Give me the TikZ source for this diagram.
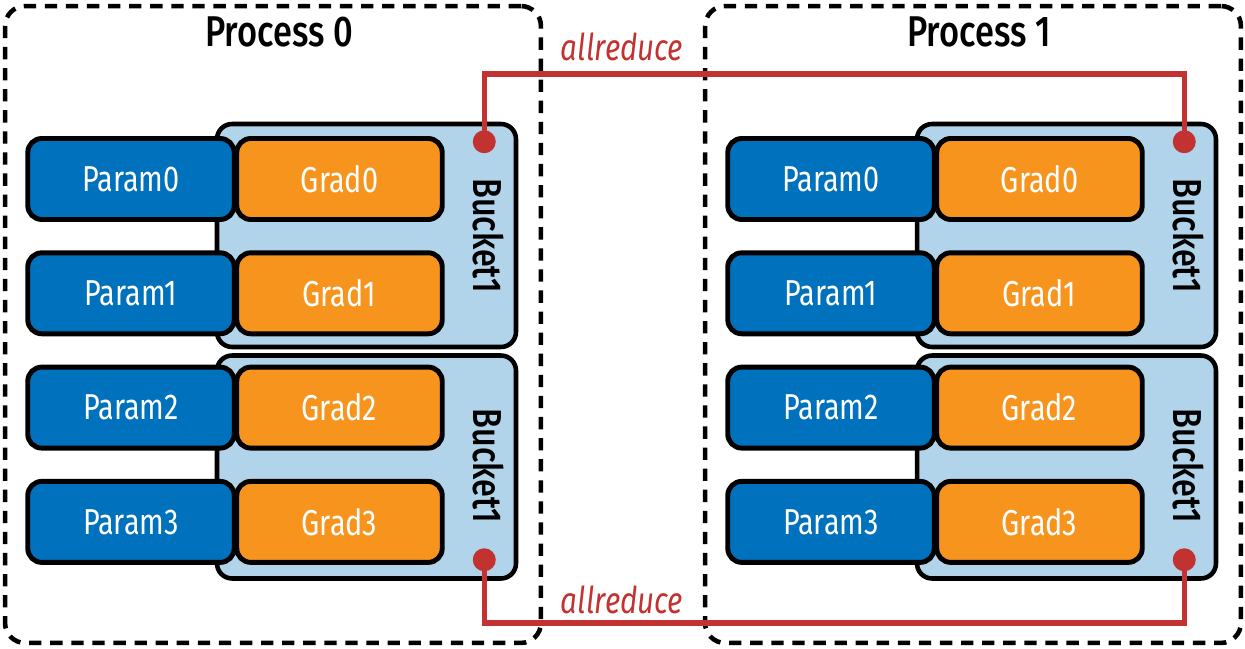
\documentclass[tikz,border=0pt]{standalone}
\usepackage{fontspec}
\setmainfont{Fira Sans}[FakeStretch=0.8]
\newfontfamily\mediumfont{Fira Sans Medium}[FakeStretch=0.8]
\usetikzlibrary{calc,positioning}
\definecolor{parblue}{RGB}{0,113,188}
\definecolor{gradorange}{RGB}{247,148,30}
\definecolor{bucketblue}{RGB}{178,212,234}
\definecolor{wirered}{RGB}{193,50,48}
\tikzstyle{param} = [draw,line width=2.8pt,rounded corners=0.28cm,fill=parblue,text=white,minimum width=4.13cm,minimum height=1.62cm,inner sep=0pt,font=\fontsize{20.5}{22}\selectfont]
\tikzstyle{grad} = [param,fill=gradorange,minimum width=4.11cm]
\tikzstyle{bucket} = [draw,line width=2.6pt,rounded corners=0.3cm,fill=bucketblue,minimum width=5.98cm,minimum height=4.46cm]
\tikzstyle{bucketlabel} = [rotate=-90,inner sep=0pt,font=\fontsize{23}{25}\mediumfont]
\tikzstyle{process} = [draw,line width=2.6pt,rounded corners=0.4cm,dash pattern=on 7pt off 5pt,minimum width=10.72cm,minimum height=12.74cm]
\tikzstyle{proctitle} = [inner sep=0pt,font=\fontsize{24.5}{26}\mediumfont]
\tikzstyle{hook} = [circle,fill=wirered,minimum size=0.46cm,inner sep=0pt]
\tikzstyle{wire} = [draw=wirered,line width=3pt]
\tikzstyle{reducelabel} = [text=wirered,inner sep=0pt,font=\fontsize{21}{23}\selectfont\itshape]
\pgfdeclarelayer{background}
\pgfdeclarelayer{background2}
\pgfdeclarelayer{wires}
\pgfsetlayers{background,background2,wires,main}
\begin{document}
\begin{tikzpicture}[x=0.02cm,y=-0.02cm]
\useasboundingbox (0,0) rectangle (1245,649);
%%% Draw processes 0..1
\foreach \p in {0,1} {
    % Draw params and grads
    \foreach \i in {0,1,2,3} {
        \node[param] at (\p*700+131,179+114.3*\i) (param\p\i) {Param\i};
        \node[grad] at (\p*700+339.5,179+114.3*\i) (grad\p\i) {Grad\i};
    }
    \begin{pgfonlayer}{background2}
    % Draw buckets
    \node[bucket] at (\p*700+366.5,235.5) (bucket\p0) {};
    \node[bucket] at (\p*700+366.5,467) (bucket\p1) {};
    \node[bucketlabel] at (\p*700+488,235.5) (bucketlabel\p0) {Bucket1};
    \node[bucketlabel] at (\p*700+488,466) (bucketlabel\p1) {Bucket1};
    \end{pgfonlayer}
    \begin{pgfonlayer}{background}
    % Draw process
    \node[process] at (\p*700+273,324.5) (process\p) {};
    \node[proctitle] at ($(process\p.north)+(6,28)$) (title\p) {Process \p};
    \end{pgfonlayer}
    % Draw hooks
    \node[hook] at ($(bucket\p0.north east)+(-34,20)$) (hook\p0) {};
    \node[hook] at ($(bucket\p1.south east)+(-34,-21)$) (hook\p1) {};
}
%%% Draw allreduce wires
\coordinate (wiretop) at (622,74);
\coordinate (wirebot) at (622,623);
\begin{pgfonlayer}{wires}
\draw[wire] (hook00.center) |- (wiretop) -| (hook10.center);
\draw[wire] (hook01.center) |- (wirebot) -| (hook11.center);
\end{pgfonlayer}
\node[reducelabel] at (622,47) (reducetop) {allreduce};
\node[reducelabel] at (622,600) (reducebot) {allreduce};
\end{tikzpicture}
\end{document}
